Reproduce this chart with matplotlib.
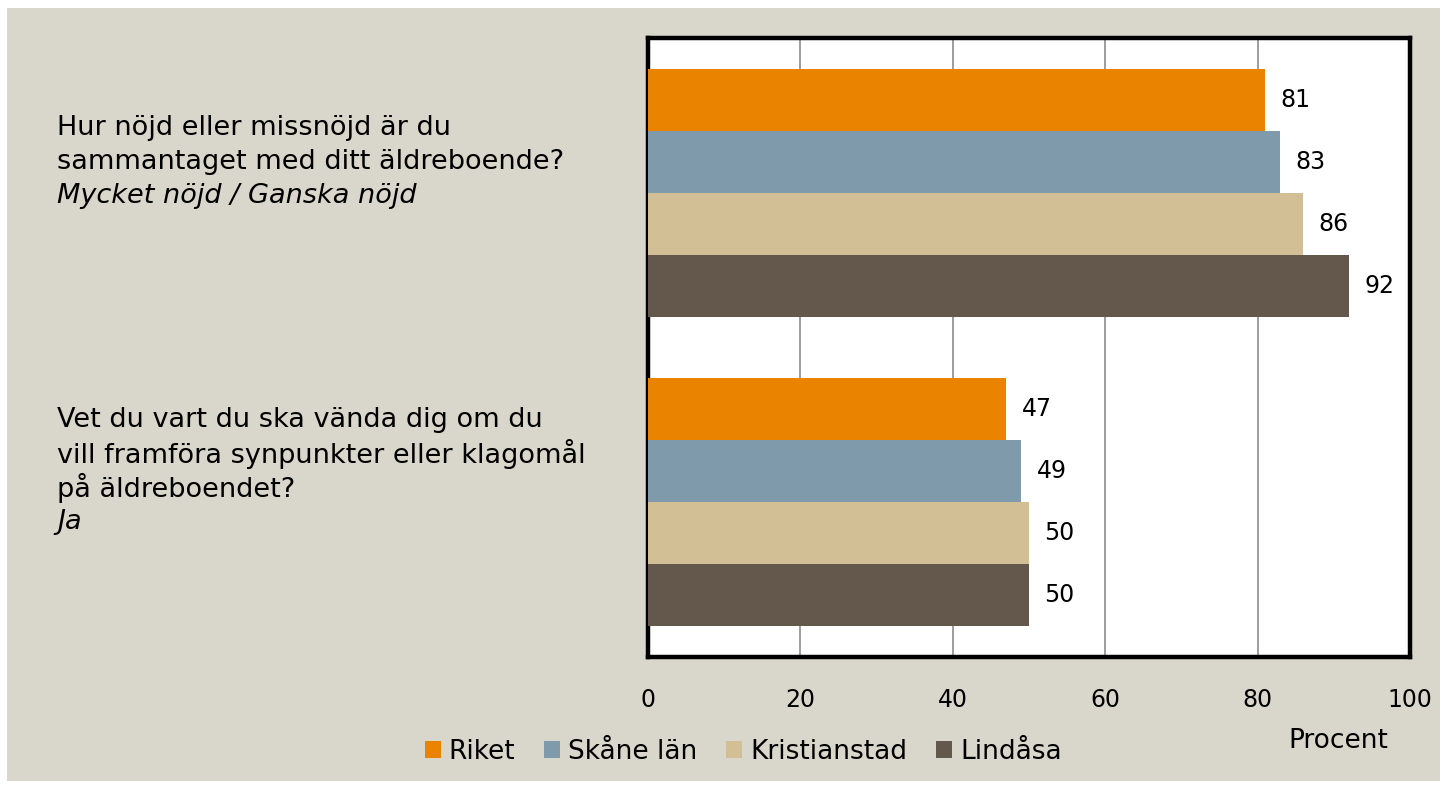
import matplotlib
matplotlib.use("Agg")
import matplotlib.pyplot as plt
import matplotlib.transforms as mtransforms
from matplotlib.patches import Rectangle

# ---- data ----
questions = [
    ["Hur nöjd eller missnöjd är du", "sammantaget med ditt äldreboende?"],
    ["Vet du vart du ska vända dig om du", "vill framföra synpunkter eller klagomål", "på äldreboendet?"],
]
answers = ["Mycket nöjd / Ganska nöjd", "Ja"]
series = ["Riket", "Skåne län", "Kristianstad", "Lindåsa"]
riket = [81, 47]
skane = [83, 49]
kristianstad = [86, 50]
lindasa = [92, 50]
xticks = [0, 20, 40, 60, 80, 100]

colors = ["#E98300", "#7F9BAB", "#D3BF96", "#64574C"]
bg = "#D9D7CB"
FONT = "DejaVu Sans"
plt.rcParams['font.family'] = FONT

W, H = 1446, 788
fig = plt.figure(figsize=(W / 100, H / 100), dpi=100)
fig.patch.set_facecolor("white")
fig.patches.append(Rectangle((7 / W, 1 - 781 / H), (1440 - 7) / W, (781 - 8) / H,
                             transform=fig.transFigure, facecolor=bg, edgecolor="none", zorder=-10))

ax = fig.add_axes([648 / W, 1 - 657 / H, (1410 - 648) / W, (657 - 38) / H])
ax.set_facecolor("white")

values = [riket, skane, kristianstad, lindasa]
bh = 0.2
offsets = [-0.3, -0.1, 0.1, 0.3]
groups = list(range(len(questions)))
for s, (name, vals, col, off) in enumerate(zip(series, values, colors, offsets)):
    ys = [g + off for g in groups]
    ax.barh(ys, vals, height=bh, color=col, label=name, zorder=3)
    for y, v in zip(ys, vals):
        ax.annotate(f"{v}", xy=(v, y), xytext=(11, 0), textcoords="offset points",
                    va="center", ha="left", fontsize=17, color="black")

ax.set_xlim(0, 100)
ax.set_ylim(1.5, -0.5)
ax.set_xticks(xticks)
ax.set_xticklabels([str(t) for t in xticks], fontsize=17)
ax.tick_params(axis="x", length=0, pad=22)
ax.set_yticks([])
ax.grid(axis="x", color="#8C8C8C", linewidth=1.2, zorder=0)
for sp in ax.spines.values():
    sp.set_linewidth(3.2)
    sp.set_color("black")

# question labels
trans = mtransforms.blended_transform_factory(fig.transFigure, ax.transData)
line_px = 34
for g, (lines, ans) in enumerate(zip(questions, answers)):
    all_lines = [(l, "normal") for l in lines] + [(ans, "italic")]
    n = len(all_lines)
    for k, (txt, style) in enumerate(all_lines):
        dy_px = (k - (n - 1) / 2) * line_px - 31
        ax.annotate(txt, xy=(57 / W, g), xycoords=trans,
                    xytext=(0, -dy_px * 0.72), textcoords="offset points",
                    va="center", ha="left", fontsize=19.5, style=style,
                    color="black", annotation_clip=False)

fig.text(1338 / W, 1 - 741 / H, "Procent", fontsize=19, ha="center", va="center")

handles, labels = ax.get_legend_handles_labels()
fig.legend(handles, labels, loc="center left", bbox_to_anchor=(425 / W, 1 - 752 / H),
           ncol=4, frameon=False, fontsize=19, handlelength=0.6, handleheight=0.6,
           handletextpad=0.3, columnspacing=1.1, borderaxespad=0, borderpad=0)

fig.savefig("out.png", dpi=100, facecolor=fig.get_facecolor())
